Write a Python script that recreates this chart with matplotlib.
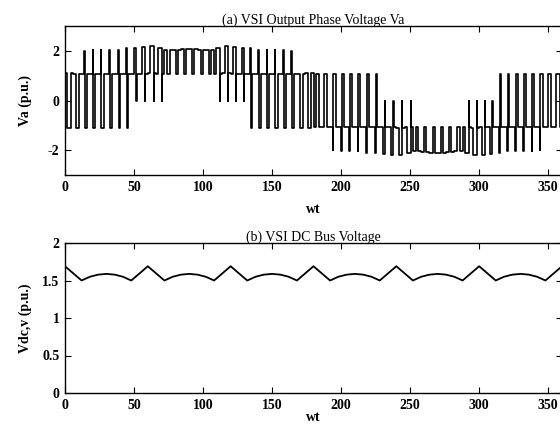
import numpy as np
import matplotlib
matplotlib.use("Agg")
import matplotlib.pyplot as plt
from matplotlib.ticker import FormatStrFormatter

# carrier period of the PWM pattern (degrees), 60 periods per cycle
period = 6.0

# per period: dwell level, first pulse level/width, second pulse level/width
# (widths as a fraction of the period)
base = [1.10, 1.05, 1.05, 1.05, 1.05, 1.05, 1.05, 1.05, 1.05, 1.08,
        1.10, 1.08, 2.05, 2.05, 2.07, 2.07, 2.05, 2.05, 1.08, 1.10,
        1.08, 1.05, 1.05, 1.05, 1.05, 1.05, 1.05, 1.05, 1.05, 1.10,
        -1.07, -1.05, -1.05, -1.05, -1.05, -1.05, -1.05, -1.05, -1.05, -1.08,
        -1.10, -1.08, -2.05, -2.07, -2.10, -2.10, -2.07, -2.05, -1.08, -1.10,
        -1.08, -1.05, -1.05, -1.05, -1.05, -1.05, -1.05, -1.05, -1.05, -1.07]
pulse1 = [1.10, 1.05, 2.00, 2.05, 2.05, 2.05, 2.05, 2.10, 2.10, 2.15,
          2.20, 2.10, 2.05, 2.05, 2.07, 2.07, 2.05, 2.05, 2.10, 2.20,
          2.15, 2.10, 2.10, 2.05, 2.05, 2.05, 2.05, 2.00, 1.05, 1.10,
          -1.07, -1.05, -2.00, -2.05, -2.05, -2.05, -2.10, -2.12, -2.15, -2.18,
          -2.20, -2.12, -2.05, -2.07, -2.10, -2.10, -2.07, -2.05, -2.12, -2.20,
          -2.18, -2.15, -2.12, -2.05, -2.05, -2.05, -2.05, -2.00, -1.05, -1.07]
width1 = [0.00, 0.00, 0.04, 0.05, 0.06, 0.08, 0.10, 0.14, 0.24, 0.34,
          0.42, 0.48, 0.00, 0.00, 0.00, 0.00, 0.00, 0.00, 0.48, 0.42,
          0.34, 0.24, 0.14, 0.10, 0.08, 0.06, 0.05, 0.04, 0.00, 0.00,
          0.00, 0.00, 0.04, 0.05, 0.06, 0.08, 0.10, 0.14, 0.24, 0.34,
          0.42, 0.48, 0.00, 0.00, 0.00, 0.00, 0.00, 0.00, 0.48, 0.42,
          0.34, 0.24, 0.14, 0.10, 0.08, 0.06, 0.05, 0.04, 0.00, 0.00]
pulse2 = [-1.10, -1.10, -1.10, -1.10, -1.10, -1.10, -1.10, -1.10, 0.00, 0.00,
          0.00, 0.00, 1.05, 1.05, 1.05, 1.05, 1.05, 1.05, 0.00, 0.00,
          0.00, 0.00, -1.10, -1.10, -1.10, -1.10, -1.10, -1.10, -1.10, -1.10,
          1.05, 1.05, 1.05, 1.05, 1.05, 1.05, 1.05, 1.05, 0.00, 0.00,
          0.00, 0.00, -1.05, -1.05, -1.05, -1.05, -1.05, -1.05, 0.00, 0.00,
          0.00, 0.00, 1.05, 1.05, 1.05, 1.05, 1.05, 1.05, 1.05, 1.05]
width2 = [0.40, 0.36, 0.32, 0.28, 0.25, 0.22, 0.18, 0.12, 0.04, 0.04,
          0.04, 0.04, 0.32, 0.28, 0.26, 0.26, 0.28, 0.32, 0.04, 0.04,
          0.04, 0.04, 0.12, 0.18, 0.22, 0.25, 0.28, 0.32, 0.36, 0.40,
          0.40, 0.36, 0.32, 0.28, 0.25, 0.22, 0.18, 0.12, 0.04, 0.04,
          0.04, 0.04, 0.32, 0.28, 0.26, 0.26, 0.28, 0.32, 0.04, 0.04,
          0.04, 0.04, 0.12, 0.18, 0.22, 0.25, 0.28, 0.32, 0.36, 0.40]

# DC bus voltage breakpoints
vdc_x = [0, 12, 18, 24, 30, 36, 42, 48,
         60, 72, 78, 84, 90, 96, 102, 108,
         120, 132, 138, 144, 150, 156, 162, 168,
         180, 192, 198, 204, 210, 216, 222, 228,
         240, 252, 258, 264, 270, 276, 282, 288,
         300, 312, 318, 324, 330, 336, 342, 348,
         360]
vdc_y = [1.69, 1.50, 1.55, 1.578, 1.588, 1.578, 1.55, 1.50,
         1.69, 1.50, 1.55, 1.578, 1.588, 1.578, 1.55, 1.50,
         1.69, 1.50, 1.55, 1.578, 1.588, 1.578, 1.55, 1.50,
         1.69, 1.50, 1.55, 1.578, 1.588, 1.578, 1.55, 1.50,
         1.69, 1.50, 1.55, 1.578, 1.588, 1.578, 1.55, 1.50,
         1.69, 1.50, 1.55, 1.578, 1.588, 1.578, 1.55, 1.50,
         1.69]

plt.rcParams["font.family"] = "Liberation Serif"
plt.rcParams["axes.unicode_minus"] = False

# build the step trace of the phase voltage
xs, ys = [], []
for k in range(len(base)):
    t = k * period
    rest = 1.0 - width1[k] - width2[k]
    for lvl, w in [(base[k], rest / 2), (pulse1[k], width1[k]),
                   (pulse2[k], width2[k]), (base[k], rest / 2)]:
        if w <= 0:
            continue
        xs.append(t)
        ys.append(lvl)
        t += w * period
xs.append(360)
ys.append(ys[-1])

fig = plt.figure(figsize=(5.6, 4.26), dpi=100)
ax1 = fig.add_axes([65 / 560, 1 - 175 / 426, 497 / 560, 149 / 426])
ax2 = fig.add_axes([65 / 560, 1 - 393 / 426, 497 / 560, 150 / 426])

ax1.plot(xs, ys, drawstyle="steps-post", color="black", lw=1.2)
ax1.set_xlim(0, 360)
ax1.set_ylim(-3, 3)
ax1.set_yticks([-2, 0, 2])
ax1.set_title("(a) VSI Output Phase Voltage Va", fontsize=10, pad=1.5)
ax1.set_ylabel("Va (p.u.)", fontsize=10, fontweight="bold")
ax1.set_xlabel("wt", fontsize=10, fontweight="bold")
ax1.yaxis.set_label_coords(-0.067, 0.5)
ax1.xaxis.set_label_coords(0.5, -0.185)

ax2.plot(vdc_x, vdc_y, color="black", lw=1.3)
ax2.set_xlim(0, 360)
ax2.set_ylim(0, 2)
ax2.set_yticks([0, 0.5, 1, 1.5, 2])
ax2.yaxis.set_major_formatter(FormatStrFormatter("%g"))
ax2.set_title("(b) VSI DC Bus Voltage", fontsize=10, pad=1.5)
ax2.set_ylabel("Vdc,v (p.u.)", fontsize=10, fontweight="bold")
ax2.set_xlabel("wt", fontsize=10, fontweight="bold")
ax2.yaxis.set_label_coords(-0.067, 0.5)
ax2.xaxis.set_label_coords(0.5, -0.12)

for ax in (ax1, ax2):
    ax.set_xticks(np.arange(0, 351, 50))
    ax.tick_params(direction="in", top=True, right=True, length=4,
                   width=0.8, labelsize=10, pad=4)
    for lab in ax.get_xticklabels() + ax.get_yticklabels():
        lab.set_fontweight("bold")
    for sp in ax.spines.values():
        sp.set_linewidth(1.0)

fig.savefig("out.png", dpi=100)
